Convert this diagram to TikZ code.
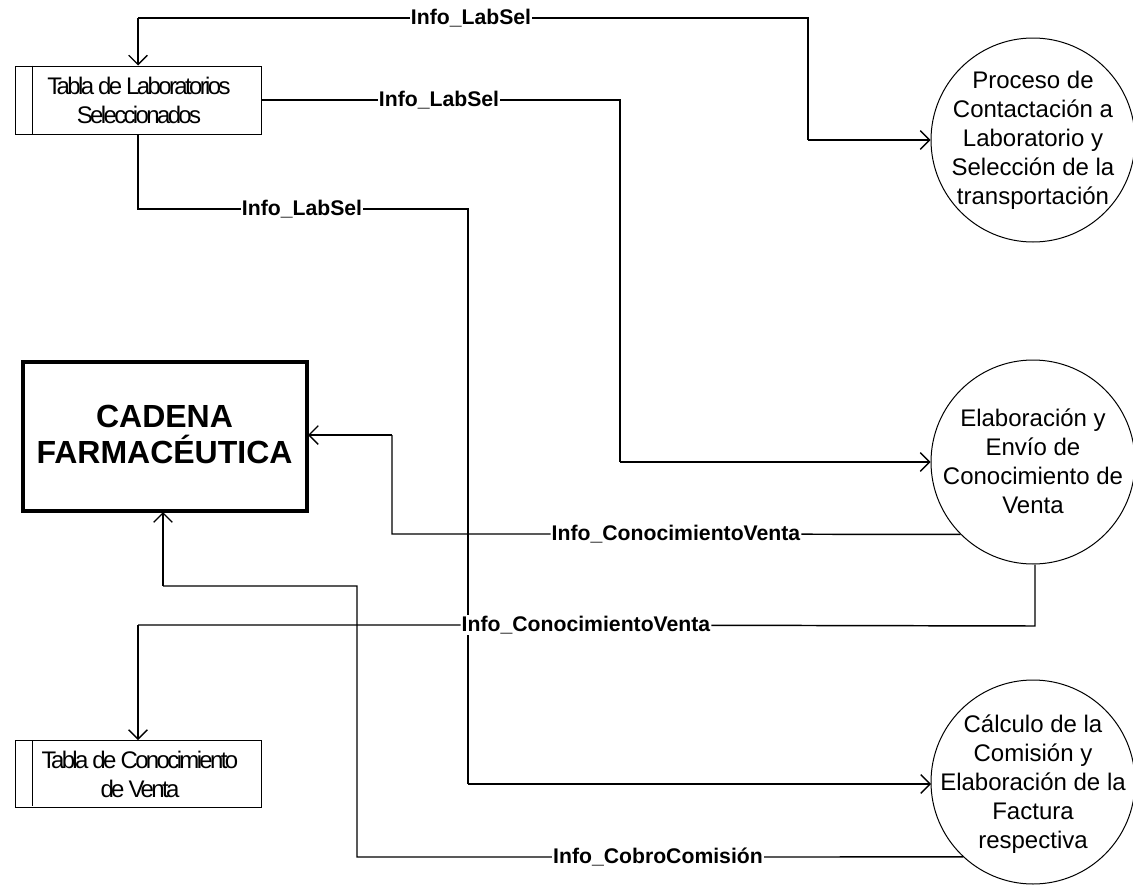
\documentclass[tikz,border=0pt]{standalone}
\usepackage{fontspec}
\setmainfont{Liberation Sans}
\newfontfamily\tightfont[LetterSpace=-11]{Liberation Sans}
\usetikzlibrary{arrows.meta,backgrounds}
\tikzset{
  x=0.75pt,y=-0.75pt,
  proc/.style={circle,draw,line width=0.75pt,minimum size=153pt,inner sep=0pt},
  proctext/.style={align=center,inner sep=0pt,font=\fontsize{18}{21.8}\selectfont},
  tablebox/.style={draw,line width=0.75pt,minimum width=184.5pt,minimum height=51pt,inner sep=0pt,
    anchor=north west},
  tabletext/.style={align=center,inner sep=0pt,font=\fontsize{18}{21.8}\tightfont},
  entity/.style={draw,line width=3pt,minimum width=213pt,minimum height=112pt,inner sep=0pt,anchor=north west},
  entitytext/.style={align=center,inner sep=0pt,font=\fontsize{24}{27.5}\selectfont\bfseries},
  lbl/.style={fill=white,inner sep=0.6pt,font=\fontsize{15.9}{18}\selectfont\bfseries},
  flow/.style={line width=1.1pt,line join=miter},
  tip/.style={-{Straight Barb[length=7pt,width=14pt,line width=1pt]}}
}
\begin{document}
\begin{tikzpicture}
\useasboundingbox (0,0) rectangle (1133,885);
\node[proc] (c1) at (1033,140) {};
\node[proc] (c2) at (1033,462) {};
\node[proc] (c3) at (1033,782) {};
\node[proctext] (c1t) at (1033,140) {Proceso de\\Contactación a\\Laboratorio y\\Selección de la\\transportación};
\node[proctext] (c2t) at (1033,461) {Elaboración y\\Envío de\\Conocimiento de\\Venta};
\node[proctext] (c3t) at (1033,784) {Cálculo de la\\Comisión y\\Elaboración de la\\Factura\\respectiva};
\node[tablebox] (t1) at (15,65.5) {};
\node[tablebox,minimum height=50pt] (t2) at (15,740) {};
\coordinate (t1d) at (32,65.5);
\coordinate (t1e) at (32,134);
\coordinate (t2d) at (32,740);
\coordinate (t2e) at (32,806);
\draw[line width=0.75pt] (t1d) -- (t1e);
\draw[line width=0.75pt] (t2d) -- (t2e);
\node[tabletext] (t1t) at (139,100) {Tabla de Laboratorios\\Seleccionados};
\node[tabletext] (t2t) at (140,774) {Tabla de Conocimiento\\de Venta};
\node[entity] (e) at (21,360) {};
\node[entitytext] (et) at (164.5,434.5) {CADENA\\FARMACÉUTICA};
\node[lbl] (l1) at (471,18) {Info\_LabSel};
\node[lbl] (l2) at (439,100) {Info\_LabSel};
\node[lbl] (l3) at (302,209) {Info\_LabSel};
\node[lbl] (l4) at (676,534) {Info\_ConocimientoVenta};
\node[lbl] (l5) at (586,625) {Info\_ConocimientoVenta};
\node[lbl] (l6) at (658,857) {Info\_CobroComisión};
\coordinate (a1) at (138,18);
\coordinate (a2) at (808,18);
\coordinate (a3) at (138,65.5);
\coordinate (b1) at (620,100);
\coordinate (d1) at (138,134);
\coordinate (d2) at (138,209);
\coordinate (d3) at (468,209);
\coordinate (d4) at (468,784);
\coordinate (d5) at (931,784);
\coordinate (f1) at (392,534);
\coordinate (f2) at (392,435);
\coordinate (f3) at (308,435);
\coordinate (g1) at (1035,626);
\coordinate (g2) at (138,625);
\coordinate (g3) at (138,740);
\coordinate (h1) at (357,857);
\coordinate (h2) at (357,586);
\coordinate (h3) at (163,586);
\coordinate (h4) at (163,512);
\begin{scope}[on background layer]
\draw[flow,tip] (a2 |- c1.west) -- (c1.west);
\draw[flow] (a2 |- c1.west) -- (a2) -- (l1) -- (a1);
\draw[flow,tip] (a1) -- (a3);
\draw[flow] (t1.east) -- (l2) -- (b1) -- (b1 |- c2.west);
\draw[flow,tip] (b1 |- c2.west) -- (c2.west);
\draw[flow] (d1) -- (d2) -- (l3) -- (d3) -- (d4);
\draw[flow,tip] (d4) -- (d5);
\draw[flow] (c2.225.5) -- (l4) -- (f1) -- (f2);
\draw[flow,tip] (f2) -- (f3);
\draw[flow] (g1 |- c2.south) -- (g1) -- (l5) -- (g2);
\draw[flow,tip] (g2) -- (g3);
\draw[flow] (c3.227.3) -- (l6) -- (h1) -- (h2) -- (h3);
\draw[flow,tip] (h3) -- (h4);
\end{scope}
\end{tikzpicture}
\end{document}
